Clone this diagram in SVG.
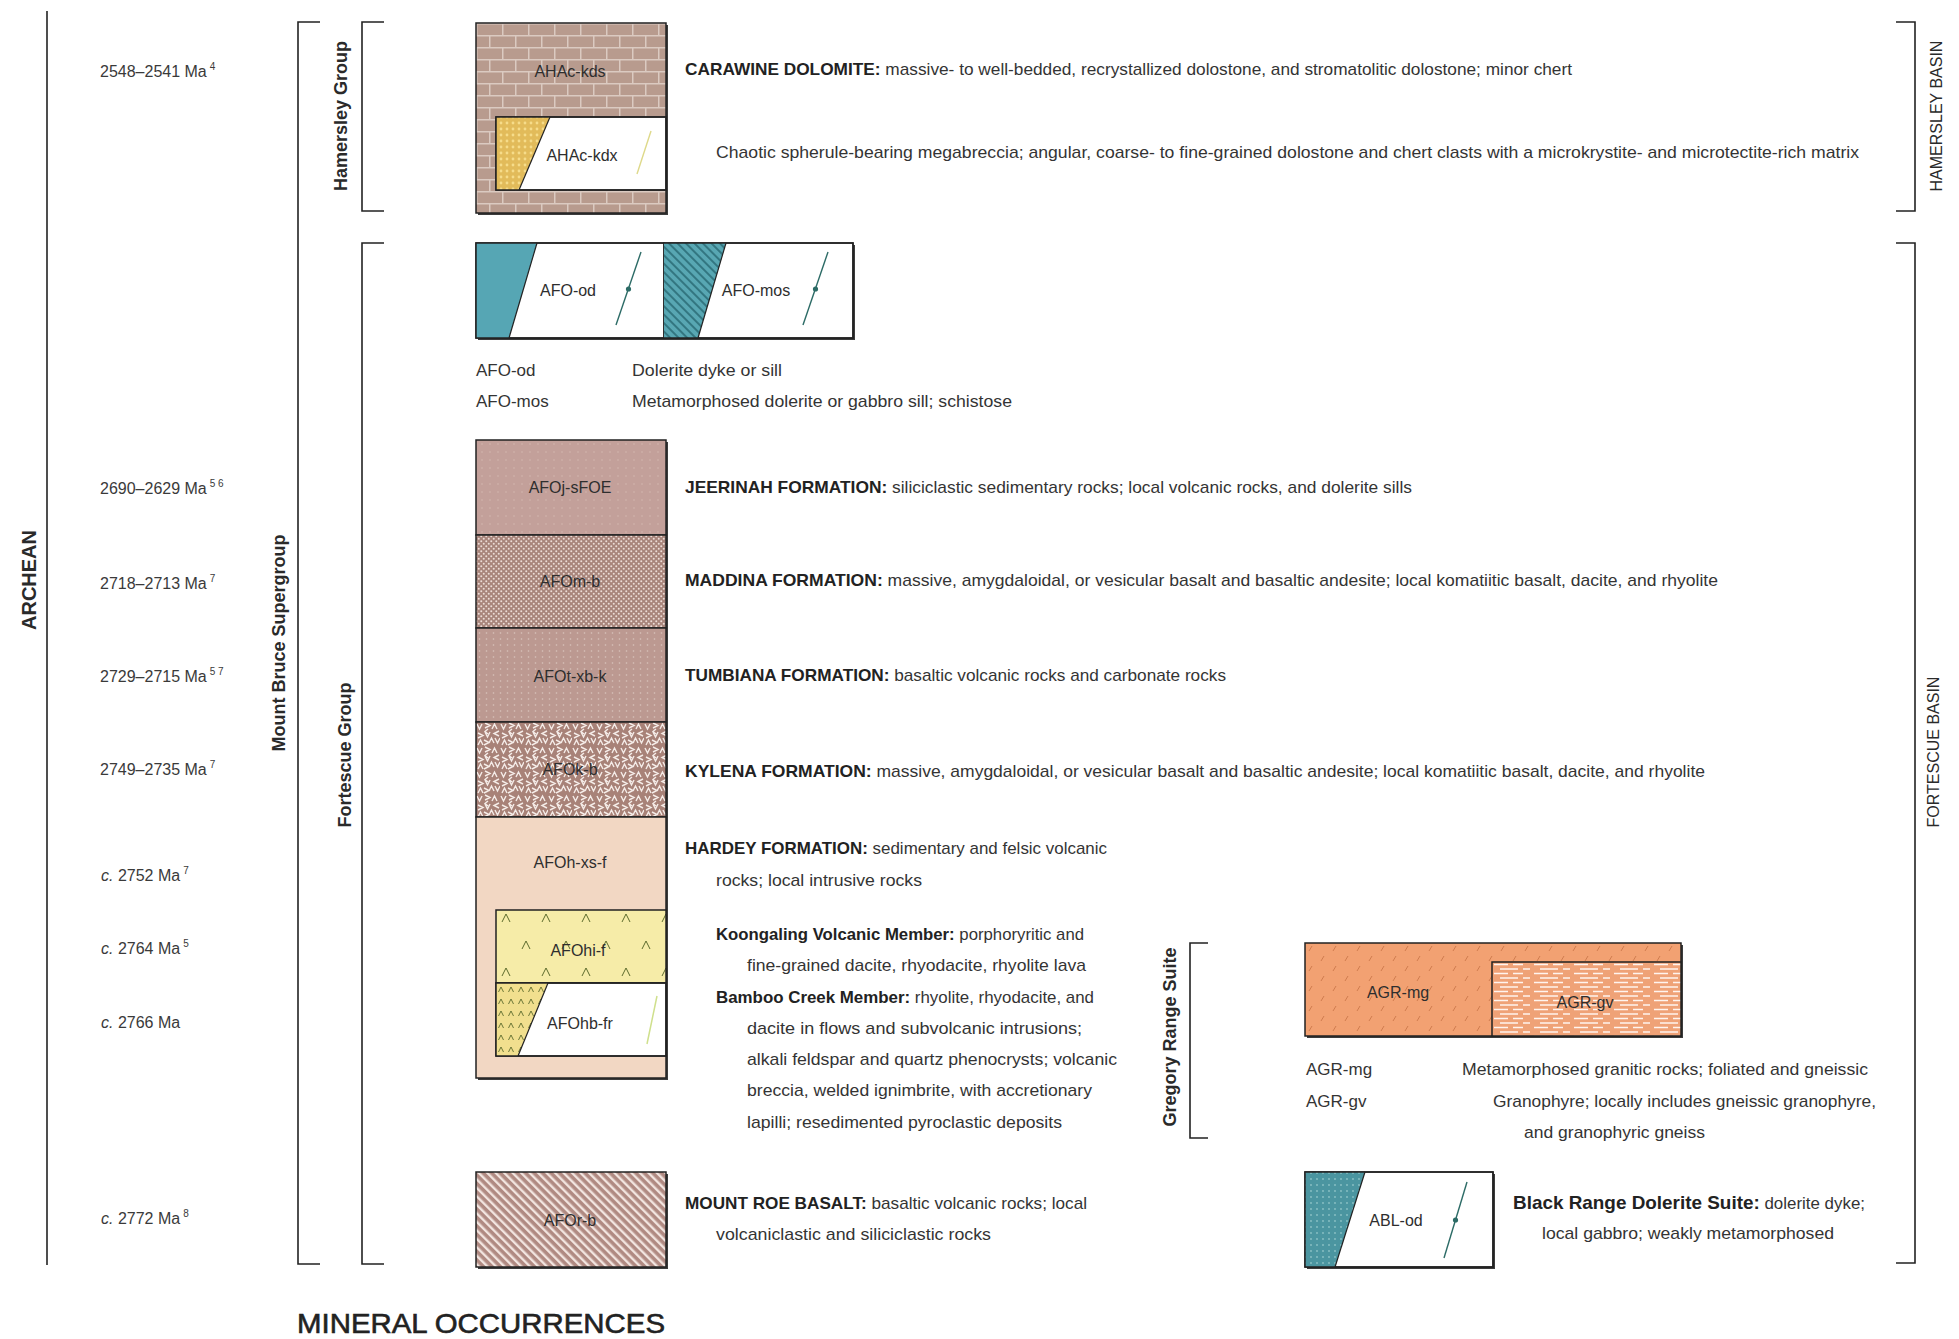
<svg xmlns="http://www.w3.org/2000/svg" width="1959" height="1339" viewBox="0 0 1959 1339">
  <style>
    text { font-family: "Liberation Sans", Arial, sans-serif; fill: #343434; }
    .t { font-size: 17px; }
    .b { font-weight: bold; fill: #222; }
    .code { font-size: 16px; text-anchor: middle; fill: #2e2e2e; }
    .age { font-size: 16px; fill: #3a3a3a; }
    .sup { font-size: 10px; }
    .grp { font-size: 18px; font-weight: bold; text-anchor: middle; fill: #2a2a2a; }
    .basin { font-size: 16px; text-anchor: middle; fill: #2a2a2a; }
    .box { stroke: #222; stroke-width: 1.5; }
    .shadow { fill: #3c3c3c; }
    .br { fill: none; stroke: #222; stroke-width: 1.6; }
    .dyke { stroke: #2c6b66; stroke-width: 1.4; fill: none; }
  </style>
  <defs>
    <pattern id="brick" patternUnits="userSpaceOnUse" x="476" y="23" width="26" height="24">
      <rect width="26" height="24" fill="#b89b8e"/>
      <path d="M0,0.75H26M0,12.75H26M0.75,0V12M13.75,12V24" stroke="#dbcac1" stroke-width="1.5"/>
    </pattern>
    <pattern id="ydots" patternUnits="userSpaceOnUse" width="6" height="6">
      <rect width="6" height="6" fill="#e2bb5a"/>
      <circle cx="3" cy="3" r="1.4" fill="#f6dc8a"/>
    </pattern>
    <pattern id="tealHatch" patternUnits="userSpaceOnUse" width="6" height="6" patternTransform="rotate(-45)">
      <rect width="6" height="6" fill="#58a7b3"/>
      <line x1="1" y1="0" x2="1" y2="6" stroke="#1f5c66" stroke-width="1.3"/>
    </pattern>
    <pattern id="jee" patternUnits="userSpaceOnUse" width="8" height="8">
      <rect width="8" height="8" fill="#c3a09a"/>
      <circle cx="2" cy="4" r="0.7" fill="#d6bcb4"/>
    </pattern>
    <pattern id="mad" patternUnits="userSpaceOnUse" width="5" height="5">
      <rect width="5" height="5" fill="#a8857b"/>
      <circle cx="1.25" cy="1.25" r="1" fill="#ecdcd6"/>
      <circle cx="3.75" cy="3.75" r="1" fill="#ecdcd6"/>
    </pattern>
    <pattern id="tum" patternUnits="userSpaceOnUse" width="7" height="6">
      <rect width="7" height="6" fill="#bc9991"/>
      <circle cx="3.5" cy="3" r="0.8" fill="#d9c4bc"/>
    </pattern>
    <pattern id="kyl" patternUnits="userSpaceOnUse" x="476" y="722" width="24" height="24">
      <rect width="24" height="24" fill="#a88278"/>
      <path d="M1,2l2.5,5l2.5,-5M9,1l5,2.5l-5,2.5M16,7l2.5,-5l2.5,5M23,9l-5,2.5l5,2.5M2,11l5,2.5l-5,2.5M9,10l2.5,5l2.5,-5M13,21l2.5,-5l2.5,5M19,16l2.5,5l2.5,-5M2,23l2.5,-5l2.5,5M8,18l5,2.5l-5,2.5M12,7l-3,2.5l3,2.5" stroke="#f5ece8" stroke-width="1.4" fill="none"/>
    </pattern>
    <pattern id="volc" patternUnits="userSpaceOnUse" x="496" y="900" width="40" height="54">
      <rect width="40" height="54" fill="#f6eca8"/>
      <path d="M6,22l4,-8l4,8M26,49l4,-8l4,8" stroke="#5d6b2c" stroke-width="1" fill="none"/>
    </pattern>
    <pattern id="volcDense" patternUnits="userSpaceOnUse" x="496" y="983" width="10" height="12">
      <rect width="10" height="12" fill="#f1df8e"/>
      <path d="M2.5,9l2.5,-5l2.5,5" stroke="#5d6b2c" stroke-width="0.9" fill="none"/>
    </pattern>
    <pattern id="roe" patternUnits="userSpaceOnUse" width="6" height="6" patternTransform="rotate(-45)">
      <rect width="6" height="6" fill="#b08a82"/>
      <rect width="2.4" height="6" fill="#f2e5e0"/>
    </pattern>
    <pattern id="abl" patternUnits="userSpaceOnUse" width="6" height="6">
      <rect width="6" height="6" fill="#4b95a0"/>
      <circle cx="3" cy="3" r="0.9" fill="#8cc2c6"/>
    </pattern>
    <pattern id="agrmg" patternUnits="userSpaceOnUse" x="1305" y="943" width="24" height="20">
      <rect width="24" height="20" fill="#f2a172"/>
      <path d="M4,8l3,-5M16,18l3,-5" stroke="#cf7c4e" stroke-width="1"/>
    </pattern>
    <pattern id="agrgv" patternUnits="userSpaceOnUse" x="1492" y="962" width="40" height="9">
      <rect width="40" height="9" fill="#efa277"/>
      <path d="M2,2.5h14M21,2.5h10M8,7h18M31,7h7" stroke="#fff4ee" stroke-width="1.7"/>
    </pattern>
  </defs>

  <rect width="1959" height="1339" fill="#ffffff"/>

  <!-- brackets and range lines -->
  <g id="connectors">
    <path class="br" d="M47,11V1265"/>
    <path class="br" d="M320,22H298V1264H320"/>
    <path class="br" d="M384,22H362V211H384"/>
    <path class="br" d="M384,243H362V1264H384"/>
    <path class="br" d="M1896,22H1915V211H1896"/>
    <path class="br" d="M1896,243H1915V1263H1896"/>
    <path class="br" d="M1208,943H1190V1138H1208"/>
  </g>

  <!-- era, group and basin labels -->
  <g id="labels">
    <text class="grp" transform="translate(29,580) rotate(-90)" y="7" style="font-size:20px">ARCHEAN</text>
    <text class="grp" transform="translate(279,643) rotate(-90)" y="6">Mount Bruce Supergroup</text>
    <text class="grp" transform="translate(341,116) rotate(-90)" y="6">Hamersley Group</text>
    <text class="grp" transform="translate(345,755) rotate(-90)" y="6">Fortescue Group</text>
    <text class="grp" transform="translate(1170,1037) rotate(-90)" y="6">Gregory Range Suite</text>
    <text class="basin" transform="translate(1936,116) rotate(-90)" y="6">HAMERSLEY BASIN</text>
    <text class="basin" transform="translate(1933,752) rotate(-90)" y="6">FORTESCUE BASIN</text>
  </g>

  <!-- ages -->
  <g id="ages">
    <text class="age" x="100" y="77">2548–2541 Ma<tspan class="sup" dx="3" dy="-7">4</tspan></text>
    <text class="age" x="100" y="494">2690–2629 Ma<tspan class="sup" dx="3" dy="-7">5 6</tspan></text>
    <text class="age" x="100" y="589">2718–2713 Ma<tspan class="sup" dx="3" dy="-7">7</tspan></text>
    <text class="age" x="100" y="682">2729–2715 Ma<tspan class="sup" dx="3" dy="-7">5 7</tspan></text>
    <text class="age" x="100" y="775">2749–2735 Ma<tspan class="sup" dx="3" dy="-7">7</tspan></text>
    <text class="age" x="101" y="881"><tspan font-style="italic">c.</tspan> 2752 Ma<tspan class="sup" dx="3" dy="-7">7</tspan></text>
    <text class="age" x="101" y="954"><tspan font-style="italic">c.</tspan> 2764 Ma<tspan class="sup" dx="3" dy="-7">5</tspan></text>
    <text class="age" x="101" y="1028"><tspan font-style="italic">c.</tspan> 2766 Ma</text>
    <text class="age" x="101" y="1224"><tspan font-style="italic">c.</tspan> 2772 Ma<tspan class="sup" dx="3" dy="-7">8</tspan></text>
  </g>

  <!-- Carawine Dolomite -->
  <g id="AHAc-kds">
    <rect class="shadow" x="478" y="25" width="190" height="190"/>
    <rect class="box" x="476" y="23" width="190" height="190" fill="url(#brick)"/>
    <text class="code" x="570" y="77">AHAc-kds</text>
    <text class="t" x="685" y="75" textLength="887" lengthAdjust="spacingAndGlyphs"><tspan class="b">CARAWINE DOLOMITE:</tspan> massive- to well-bedded, recrystallized dolostone, and stromatolitic dolostone; minor chert</text>
  </g>
  <g id="AHAc-kdx">
    <rect class="box" x="496" y="117" width="170" height="73" fill="#ffffff"/>
    <polygon points="496,117 550,117 519,190 496,190" fill="url(#ydots)"/>
    <line x1="550" y1="117" x2="519" y2="190" stroke="#222" stroke-width="1.2"/>
    <rect x="496" y="117" width="170" height="73" fill="none" stroke="#222" stroke-width="1.5"/>
    <line x1="651" y1="131" x2="637" y2="174" stroke="#ded98a" stroke-width="1.4"/>
    <text class="code" x="582" y="161">AHAc-kdx</text>
    <text class="t" x="716" y="158" textLength="1143" lengthAdjust="spacingAndGlyphs">Chaotic spherule-bearing megabreccia; angular, coarse- to fine-grained dolostone and chert clasts with a microkrystite- and microtectite-rich matrix</text>
  </g>

  <!-- dolerite intrusions -->
  <g id="AFO-od">
    <rect class="shadow" x="478" y="245" width="377" height="95"/>
    <rect class="box" x="476" y="243" width="188" height="95" fill="#ffffff"/>
    <polygon points="476,243 537,243 509,338 476,338" fill="#56a6b4"/>
    <line x1="537" y1="243" x2="509" y2="338" stroke="#222" stroke-width="1.2"/>
    <line class="dyke" x1="641" y1="252" x2="616" y2="325"/>
    <circle cx="628.5" cy="289" r="2.6" fill="#2c6b66"/>
    <text class="code" x="568" y="296">AFO-od</text>
    <text class="t" x="476" y="376">AFO-od</text>
    <text class="t" x="632" y="376" textLength="150" lengthAdjust="spacingAndGlyphs">Dolerite dyke or sill</text>
  </g>
  <g id="AFO-mos">
    <rect class="box" x="664" y="243" width="189" height="95" fill="#ffffff"/>
    <polygon points="664,243 726,243 698,338 664,338" fill="url(#tealHatch)"/>
    <line x1="726" y1="243" x2="698" y2="338" stroke="#222" stroke-width="1.2"/>
    <rect x="476" y="243" width="377" height="95" fill="none" stroke="#222" stroke-width="1.5"/>
    <line class="dyke" x1="828" y1="252" x2="803" y2="325"/>
    <circle cx="815.5" cy="289" r="2.6" fill="#2c6b66"/>
    <text class="code" x="756" y="296">AFO-mos</text>
    <text class="t" x="476" y="407">AFO-mos</text>
    <text class="t" x="632" y="407" textLength="380" lengthAdjust="spacingAndGlyphs">Metamorphosed dolerite or gabbro sill; schistose</text>
  </g>

  <!-- Fortescue Group column -->
  <rect class="shadow" x="478" y="442" width="190" height="638"/>
  <g id="AFOj-sFOE">
    <rect class="box" x="476" y="440" width="190" height="95" fill="url(#jee)"/>
    <text class="code" x="570" y="493">AFOj-sFOE</text>
    <text class="t" x="685" y="493" textLength="727" lengthAdjust="spacingAndGlyphs"><tspan class="b">JEERINAH FORMATION:</tspan> siliciclastic sedimentary rocks; local volcanic rocks, and dolerite sills</text>
  </g>
  <g id="AFOm-b">
    <rect class="box" x="476" y="535" width="190" height="93" fill="url(#mad)"/>
    <text class="code" x="570" y="587">AFOm-b</text>
    <text class="t" x="685" y="586" textLength="1033" lengthAdjust="spacingAndGlyphs"><tspan class="b">MADDINA FORMATION:</tspan> massive, amygdaloidal, or vesicular basalt and basaltic andesite; local komatiitic basalt, dacite, and rhyolite</text>
  </g>
  <g id="AFOt-xb-k">
    <rect class="box" x="476" y="628" width="190" height="94" fill="url(#tum)"/>
    <text class="code" x="570" y="682">AFOt-xb-k</text>
    <text class="t" x="685" y="681" textLength="541" lengthAdjust="spacingAndGlyphs"><tspan class="b">TUMBIANA FORMATION:</tspan> basaltic volcanic rocks and carbonate rocks</text>
  </g>
  <g id="AFOk-b">
    <rect class="box" x="476" y="722" width="190" height="95" fill="url(#kyl)"/>
    <text class="code" x="570" y="775">AFOk-b</text>
    <text class="t" x="685" y="777" textLength="1020" lengthAdjust="spacingAndGlyphs"><tspan class="b">KYLENA FORMATION:</tspan> massive, amygdaloidal, or vesicular basalt and basaltic andesite; local komatiitic basalt, dacite, and rhyolite</text>
  </g>
  <g id="AFOh-xs-f">
    <rect class="box" x="476" y="817" width="190" height="261" fill="#f2d7c3"/>
    <text class="code" x="570" y="868">AFOh-xs-f</text>
    <text class="t" x="685" y="854" textLength="422" lengthAdjust="spacingAndGlyphs"><tspan class="b">HARDEY FORMATION:</tspan> sedimentary and felsic volcanic</text>
    <text class="t" x="716" y="886" textLength="206" lengthAdjust="spacingAndGlyphs">rocks; local intrusive rocks</text>
  </g>
  <g id="AFOhi-f">
    <rect class="box" x="496" y="910" width="170" height="73" fill="url(#volc)"/>
    <text class="code" x="578" y="956">AFOhi-f</text>
    <text class="t" x="716" y="940" textLength="368" lengthAdjust="spacingAndGlyphs"><tspan class="b">Koongaling Volcanic Member:</tspan> porphoryritic and</text>
    <text class="t" x="747" y="971" textLength="339" lengthAdjust="spacingAndGlyphs">fine-grained dacite, rhyodacite, rhyolite lava</text>
  </g>
  <g id="AFOhb-fr">
    <rect class="box" x="496" y="983" width="170" height="73" fill="#ffffff"/>
    <polygon points="496,983 548,983 518,1056 496,1056" fill="url(#volcDense)"/>
    <line x1="548" y1="983" x2="518" y2="1056" stroke="#222" stroke-width="1.2"/>
    <rect x="496" y="983" width="170" height="73" fill="none" stroke="#222" stroke-width="1.5"/>
    <line x1="657" y1="996" x2="647" y2="1044" stroke="#cfe08c" stroke-width="1.5"/>
    <text class="code" x="580" y="1029">AFOhb-fr</text>
    <text class="t" x="716" y="1003" textLength="378" lengthAdjust="spacingAndGlyphs"><tspan class="b">Bamboo Creek Member:</tspan> rhyolite, rhyodacite, and</text>
    <text class="t" x="747" y="1034" textLength="335" lengthAdjust="spacingAndGlyphs">dacite in flows and subvolcanic intrusions;</text>
    <text class="t" x="747" y="1065" textLength="370" lengthAdjust="spacingAndGlyphs">alkali feldspar and quartz phenocrysts; volcanic</text>
    <text class="t" x="747" y="1096" textLength="345" lengthAdjust="spacingAndGlyphs">breccia, welded ignimbrite, with accretionary</text>
    <text class="t" x="747" y="1128" textLength="315" lengthAdjust="spacingAndGlyphs">lapilli; resedimented pyroclastic deposits</text>
  </g>
  <g id="AFOr-b">
    <rect class="shadow" x="478" y="1174" width="190" height="95"/>
    <rect class="box" x="476" y="1172" width="190" height="95" fill="url(#roe)"/>
    <text class="code" x="570" y="1226">AFOr-b</text>
    <text class="t" x="685" y="1209" textLength="402" lengthAdjust="spacingAndGlyphs"><tspan class="b">MOUNT ROE BASALT:</tspan> basaltic volcanic rocks; local</text>
    <text class="t" x="716" y="1240" textLength="275" lengthAdjust="spacingAndGlyphs">volcaniclastic and siliciclastic rocks</text>
  </g>

  <!-- Gregory Range Suite -->
  <g id="AGR-mg">
    <rect class="shadow" x="1307" y="945" width="376" height="93"/>
    <rect class="box" x="1305" y="943" width="376" height="93" fill="url(#agrmg)"/>
    <text class="code" x="1398" y="998">AGR-mg</text>
    <text class="t" x="1306" y="1075">AGR-mg</text>
    <text class="t" x="1462" y="1075" textLength="406" lengthAdjust="spacingAndGlyphs">Metamorphosed granitic rocks; foliated and gneissic</text>
  </g>
  <g id="AGR-gv">
    <rect class="box" x="1492" y="962" width="189" height="74" fill="url(#agrgv)"/>
    <text class="code" x="1585" y="1008">AGR-gv</text>
    <text class="t" x="1306" y="1107">AGR-gv</text>
    <text class="t" x="1493" y="1107" textLength="383" lengthAdjust="spacingAndGlyphs">Granophyre; locally includes gneissic granophyre,</text>
    <text class="t" x="1524" y="1138" textLength="181" lengthAdjust="spacingAndGlyphs">and granophyric gneiss</text>
  </g>

  <!-- Black Range Dolerite Suite -->
  <g id="ABL-od">
    <rect class="shadow" x="1307" y="1174" width="188" height="95"/>
    <rect class="box" x="1305" y="1172" width="188" height="95" fill="#ffffff"/>
    <polygon points="1305,1172 1365,1172 1335,1267 1305,1267" fill="url(#abl)"/>
    <line x1="1365" y1="1172" x2="1335" y2="1267" stroke="#222" stroke-width="1.2"/>
    <rect x="1305" y="1172" width="188" height="95" fill="none" stroke="#222" stroke-width="1.5"/>
    <line class="dyke" x1="1467" y1="1182" x2="1444" y2="1258"/>
    <circle cx="1455.5" cy="1220" r="2.6" fill="#2c6b66"/>
    <text class="code" x="1396" y="1226">ABL-od</text>
    <text class="t" x="1513" y="1209" textLength="352" lengthAdjust="spacingAndGlyphs"><tspan class="b" style="font-size:19px">Black Range Dolerite Suite:</tspan> dolerite dyke;</text>
    <text class="t" x="1542" y="1239" textLength="292" lengthAdjust="spacingAndGlyphs">local gabbro; weakly metamorphosed</text>
  </g>

  <text x="297" y="1333" style="font-size:28px; fill:#222; stroke:#222; stroke-width:0.6" textLength="368" lengthAdjust="spacingAndGlyphs">MINERAL OCCURRENCES</text>
</svg>
